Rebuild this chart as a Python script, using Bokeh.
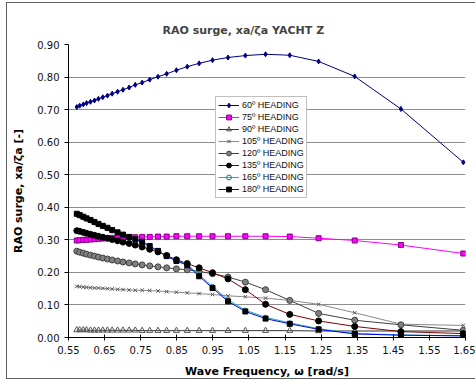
from bokeh.plotting import figure
from bokeh.models import FixedTicker, Legend, LegendItem, PrintfTickFormatter, Range1d
from bokeh.embed import file_html
from bokeh.resources import INLINE

# Wave frequency [rad/s]
freq = [0.573, 0.581, 0.591, 0.600, 0.611, 0.622, 0.633, 0.645, 0.658, 0.671,
        0.686, 0.701, 0.718, 0.735, 0.754, 0.775, 0.798, 0.822, 0.849, 0.879,
        0.912, 0.949, 0.992, 1.040, 1.096, 1.163, 1.243, 1.343, 1.471, 1.644]

h60 = [0.708, 0.712, 0.716, 0.720, 0.724, 0.728, 0.733, 0.738, 0.743, 0.749,
       0.755, 0.761, 0.768, 0.776, 0.783, 0.792, 0.801, 0.810, 0.821, 0.832,
       0.842, 0.852, 0.860, 0.866, 0.870, 0.867, 0.848, 0.802, 0.702, 0.538]
h75 = [0.298, 0.299, 0.300, 0.300, 0.301, 0.302, 0.303, 0.304, 0.305, 0.306,
       0.307, 0.307, 0.308, 0.308, 0.309, 0.309, 0.310, 0.310, 0.311, 0.311,
       0.311, 0.311, 0.311, 0.311, 0.311, 0.310, 0.305, 0.298, 0.284, 0.258]
h90 = [0.023, 0.023, 0.023, 0.023, 0.022, 0.022, 0.022, 0.022, 0.022, 0.022,
       0.022, 0.022, 0.022, 0.022, 0.021, 0.021, 0.021, 0.021, 0.021, 0.021,
       0.021, 0.021, 0.021, 0.021, 0.021, 0.021, 0.020, 0.020, 0.020, 0.020]
h105 = [0.157, 0.156, 0.155, 0.154, 0.153, 0.152, 0.152, 0.151, 0.150, 0.149,
        0.148, 0.147, 0.146, 0.145, 0.145, 0.144, 0.143, 0.141, 0.139, 0.137,
        0.135, 0.132, 0.128, 0.125, 0.121, 0.114, 0.102, 0.076, 0.041, 0.037]
h120 = [0.265, 0.262, 0.259, 0.256, 0.253, 0.250, 0.247, 0.244, 0.241, 0.238,
        0.235, 0.232, 0.229, 0.226, 0.223, 0.220, 0.217, 0.214, 0.211, 0.208,
        0.203, 0.196, 0.186, 0.170, 0.147, 0.114, 0.074, 0.053, 0.039, 0.022]
h135 = [0.328, 0.326, 0.323, 0.320, 0.317, 0.314, 0.311, 0.308, 0.305, 0.301,
        0.297, 0.293, 0.289, 0.284, 0.278, 0.271, 0.263, 0.252, 0.239, 0.227,
        0.214, 0.199, 0.180, 0.147, 0.102, 0.071, 0.051, 0.034, 0.018, 0.012]
h165 = [0.377, 0.373, 0.368, 0.363, 0.358, 0.352, 0.346, 0.340, 0.334, 0.327,
        0.320, 0.313, 0.306, 0.299, 0.291, 0.279, 0.265, 0.250, 0.236, 0.224,
        0.192, 0.157, 0.116, 0.084, 0.062, 0.045, 0.027, 0.012, 0.008, 0.005]
h180 = [0.380, 0.376, 0.371, 0.366, 0.361, 0.355, 0.349, 0.343, 0.337, 0.330,
        0.323, 0.316, 0.309, 0.302, 0.294, 0.281, 0.266, 0.250, 0.235, 0.222,
        0.188, 0.152, 0.111, 0.080, 0.058, 0.042, 0.025, 0.011, 0.007, 0.005]

labels = ["60º HEADING", "75º HEADING", "90º HEADING", "105º HEADING",
          "120º HEADING", "135º HEADING", "165º HEADING", "180º HEADING"]
x_ticks = [0.55, 0.65, 0.75, 0.85, 0.95, 1.05, 1.15, 1.25, 1.35, 1.45, 1.55, 1.65]
y_ticks = [0.0, 0.1, 0.2, 0.3, 0.4, 0.5, 0.6, 0.7, 0.8, 0.9]
grid_ticks = [0.1, 0.2, 0.3, 0.4, 0.5, 0.6, 0.7, 0.8]

p = figure(width=469, height=377, output_backend="svg", toolbar_location=None,
           x_range=Range1d(0.55, 1.65), y_range=Range1d(0.0, 0.90),
           min_border_left=61, min_border_right=11, min_border_top=41,
           min_border_bottom=43)
p.styles = {"margin-left": "6px", "margin-top": "2px",
            "border-left": "1px solid #606060", "border-top": "1px solid #606060",
            "border-bottom": "1px solid #606060"}
p.background_fill_color = "white"
p.border_fill_color = "white"
p.outline_line_color = None

p.title.text = "RAO surge, xa/ζa YACHT Z"
p.title.text_font = "DejaVu Sans"
p.title.text_font_size = "11px"
p.title.text_font_style = "bold"
p.title.align = "left"
p.title.offset = 94
p.title.standoff = 15

p.xaxis.ticker = FixedTicker(ticks=x_ticks)
p.yaxis.ticker = FixedTicker(ticks=y_ticks)
p.xaxis.formatter = PrintfTickFormatter(format="%.2f")
p.yaxis.formatter = PrintfTickFormatter(format="%.2f")
p.xgrid.visible = False
p.ygrid.ticker = FixedTicker(ticks=grid_ticks)
p.ygrid.grid_line_color = "#8c8c8c"
p.ygrid.grid_line_width = 1

for ax in (p.xaxis, p.yaxis):
    ax.axis_line_color = "black"
    ax.major_tick_line_color = "black"
    ax.minor_tick_line_color = None
    ax.major_label_text_font = "DejaVu Sans"
    ax.major_label_text_font_size = "10px"
    ax.major_label_text_color = "#111111"
    ax.axis_label_text_font = "DejaVu Sans"
    ax.axis_label_text_font_size = "11px"
    ax.axis_label_text_font_style = "bold"
    ax.axis_label_text_color = "black"

p.xaxis.axis_label = "Wave Frequency, ω [rad/s]"
p.yaxis.axis_label = "RAO surge, xa/ζa [-]"
p.xaxis.major_tick_in = 3
p.xaxis.major_tick_out = 3
p.xaxis.major_label_standoff = 5
p.xaxis.axis_label_standoff = 8
p.yaxis.major_tick_in = 0
p.yaxis.major_tick_out = 4
p.yaxis.major_label_standoff = 5
p.yaxis.axis_label_standoff = 9

styles = [
    # line color, marker, size, fill, outline
    ("#000080", "diamond", 5, "#000080", "#000080"),
    ("#FF00FF", "square", 5, "#FF00FF", "#800080"),
    ("#333333", "triangle", 6, None, "#555555"),
    ("#8a8a8a", "x", 5, None, "#555555"),
    ("#404040", "circle", 6, "#808080", "#404040"),
    ("#800000", "circle", 6, "#000000", "#000000"),
    ("#20B2AA", "circle", 4, None, "#008080"),
    ("#0000FF", "square", 5, "#000000", "#000000"),
]
data = [h60, h75, h90, h105, h120, h135, h165, h180]

items = []
for lab, vals, (lc, mk, sz, fc, oc) in zip(labels, data, styles):
    rl = p.line(freq, vals, line_color=lc, line_width=1)
    rs = p.scatter(freq, vals, marker=mk, size=sz, fill_color=fc,
                   line_color=oc, line_width=1)
    items.append(LegendItem(label=lab, renderers=[rl, rs]))

legend = Legend(items=items, location=(147, 139))
legend.label_text_font = "Liberation Sans"
legend.label_text_font_size = "9px"
legend.label_text_color = "#111111"
legend.label_height = 12
legend.glyph_height = 12
legend.glyph_width = 21
legend.label_standoff = 3
legend.spacing = 0
legend.padding = 2
legend.margin = 0
legend.border_line_color = "#808080"
legend.border_line_width = 1
legend.background_fill_color = "white"
legend.background_fill_alpha = 1.0
p.add_layout(legend, "center")

open("out.html", "w").write(file_html(p, INLINE))
